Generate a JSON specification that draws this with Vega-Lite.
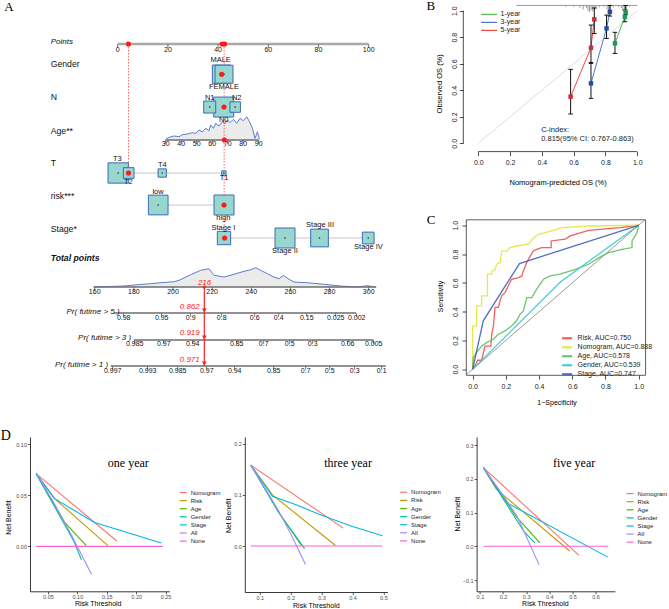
{
"$schema":"https://vega.github.io/schema/vega-lite/v6.json",
"padding":0,
"background":"white",
"config":{
 "font":"Liberation Sans",
 "view":{"stroke":null},
 "axis":{"grid":false,"labelFont":"Liberation Sans","titleFont":"Liberation Sans","titleFontWeight":"normal","domainColor":"#000","tickColor":"#000","labelColor":"#000","titleColor":"#000","minExtent":0},
 "legend":{"labelFont":"Liberation Sans","padding":0}
},
"datasets":{
 "ageDens":[
  {"pos":19.12,"top":2.932,"base":2.954},{"pos":20.44,"top":2.871,"base":2.954},{"pos":22.43,"top":2.831,"base":2.954},{"pos":24.42,"top":2.852,"base":2.954},{"pos":25.78,"top":2.791,"base":2.954},{"pos":27.77,"top":2.769,"base":2.954},{"pos":29.76,"top":2.729,"base":2.954},{"pos":31.08,"top":2.748,"base":2.954},{"pos":32.39,"top":2.646,"base":2.954},{"pos":33.75,"top":2.708,"base":2.954},{"pos":35.06,"top":2.594,"base":2.954},{"pos":36.37,"top":2.668,"base":2.954},{"pos":37.05,"top":2.492,"base":2.954},{"pos":38.13,"top":2.594,"base":2.954},{"pos":39.04,"top":2.44,"base":2.954},{"pos":40.36,"top":2.523,"base":2.954},{"pos":41.71,"top":2.391,"base":2.954},{"pos":42.63,"top":2.462,"base":2.954},{"pos":43.71,"top":2.339,"base":2.954},{"pos":44.74,"top":2.422,"base":2.954},{"pos":46.1,"top":2.317,"base":2.954},{"pos":47.41,"top":2.44,"base":2.954},{"pos":48.73,"top":2.286,"base":2.954},{"pos":50.08,"top":2.36,"base":2.954},{"pos":51.39,"top":2.237,"base":2.954},{"pos":52.47,"top":2.391,"base":2.954},{"pos":53.67,"top":2.594,"base":2.954},{"pos":54.7,"top":2.902,"base":2.954},{"pos":55.66,"top":2.699,"base":2.954},{"pos":56.45,"top":2.932,"base":2.954}
 ],
 "totDens":[
  {"pos":-9.56,"top":7.477,"base":7.477},{"pos":2.51,"top":7.446,"base":7.477},{"pos":7.85,"top":7.406,"base":7.477},{"pos":13.15,"top":7.375,"base":7.477},{"pos":15.82,"top":7.354,"base":7.477},{"pos":22.43,"top":7.314,"base":7.477},{"pos":24.42,"top":7.271,"base":7.477},{"pos":29.08,"top":7.099,"base":7.477},{"pos":33.07,"top":6.963,"base":7.477},{"pos":36.37,"top":6.914,"base":7.477},{"pos":38.37,"top":7.117,"base":7.477},{"pos":42.35,"top":7.169,"base":7.477},{"pos":46.33,"top":7.086,"base":7.477},{"pos":50.32,"top":6.994,"base":7.477},{"pos":52.99,"top":6.945,"base":7.477},{"pos":54.98,"top":6.883,"base":7.477},{"pos":56.97,"top":6.963,"base":7.477},{"pos":59.64,"top":7.068,"base":7.477},{"pos":62.27,"top":7.169,"base":7.477},{"pos":64.26,"top":7.222,"base":7.477},{"pos":66.02,"top":7.117,"base":7.477},{"pos":68.25,"top":7.24,"base":7.477},{"pos":70.24,"top":7.323,"base":7.477},{"pos":75.58,"top":7.345,"base":7.477},{"pos":82.19,"top":7.394,"base":7.477},{"pos":88.84,"top":7.446,"base":7.477},{"pos":95.5,"top":7.477,"base":7.477},{"pos":99.48,"top":7.437,"base":7.477},{"pos":102.79,"top":7.477,"base":7.477}
 ],
 "aTicks":[
  {"t":"0","pos":0,"row":0.17,"trow":0.06},{"t":"20","pos":20,"row":0.17,"trow":0.06},{"t":"40","pos":40,"row":0.17,"trow":0.06},{"t":"60","pos":60,"row":0.17,"trow":0.06},{"t":"80","pos":80,"row":0.17,"trow":0.06},{"t":"100","pos":100,"row":0.17,"trow":0.06},
  {"t":"30","pos":19.12,"row":3.086,"trow":3.014},{"t":"40","pos":25.3,"row":3.086,"trow":3.014},{"t":"50","pos":31.47,"row":3.086,"trow":3.014},{"t":"60","pos":37.65,"row":3.086,"trow":3.014},{"t":"70","pos":43.82,"row":3.086,"trow":3.014},{"t":"80","pos":50.0,"row":3.086,"trow":3.014},{"t":"90","pos":56.18,"row":3.086,"trow":3.014},
  {"t":"160","pos":-9.16,"row":7.63,"trow":7.537},{"t":"180","pos":6.43,"row":7.63,"trow":7.537},{"t":"200","pos":22.03,"row":7.63,"trow":7.537},{"t":"220","pos":37.62,"row":7.63,"trow":7.537},{"t":"240","pos":53.22,"row":7.63,"trow":7.537},{"t":"260","pos":68.81,"row":7.63,"trow":7.537},{"t":"280","pos":84.4,"row":7.63,"trow":7.537},{"t":"300","pos":100.0,"row":7.63,"trow":7.537},
  {"t":"0.98","pos":2.39,"row":8.42,"trow":8.337},{"t":"0.95","pos":17.53,"row":8.42,"trow":8.337},{"t":"0.9","pos":29.08,"row":8.42,"trow":8.337},{"t":"0.8","pos":41.43,"row":8.42,"trow":8.337},{"t":"0.6","pos":54.58,"row":8.42,"trow":8.337},{"t":"0.4","pos":64.14,"row":8.42,"trow":8.337},{"t":"0.15","pos":75.3,"row":8.42,"trow":8.337},{"t":"0.025","pos":86.85,"row":8.42,"trow":8.337},{"t":"0.002","pos":95.2,"row":8.42,"trow":8.337},
  {"t":"0.985","pos":6.77,"row":9.24,"trow":9.168},{"t":"0.97","pos":18.33,"row":9.24,"trow":9.168},{"t":"0.94","pos":29.88,"row":9.24,"trow":9.168},{"t":"0.85","pos":47.41,"row":9.24,"trow":9.168},{"t":"0.7","pos":58.17,"row":9.24,"trow":9.168},{"t":"0.5","pos":68.53,"row":9.24,"trow":9.168},{"t":"0.3","pos":77.69,"row":9.24,"trow":9.168},{"t":"0.06","pos":91.63,"row":9.24,"trow":9.168},{"t":"0.005","pos":101.99,"row":9.24,"trow":9.168},
  {"t":"0.997","pos":-1.99,"row":10.05,"trow":9.968},{"t":"0.993","pos":11.95,"row":10.05,"trow":9.968},{"t":"0.985","pos":23.9,"row":10.05,"trow":9.968},{"t":"0.97","pos":35.46,"row":10.05,"trow":9.968},{"t":"0.94","pos":46.61,"row":10.05,"trow":9.968},{"t":"0.85","pos":62.15,"row":10.05,"trow":9.968},{"t":"0.7","pos":74.9,"row":10.05,"trow":9.968},{"t":"0.5","pos":84.46,"row":10.05,"trow":9.968},{"t":"0.3","pos":94.42,"row":10.05,"trow":9.968},{"t":"0.1","pos":105.18,"row":10.05,"trow":9.968}
 ],
 "boxes":[
  {"c":"MALE","pos":41.35,"row":0.929,"n":210,"lpos":41.0,"lrow":0.49},
  {"c":"FEMALE","pos":42.35,"row":0.929,"n":202,"lpos":42.35,"lrow":1.33},
  {"c":"N0","pos":42.23,"row":1.94,"n":250,"lpos":42.23,"lrow":2.33},
  {"c":"N1","pos":36.65,"row":1.94,"n":90,"lpos":36.65,"lrow":1.646},
  {"c":"N2","pos":46.8,"row":1.94,"n":69,"lpos":47.4,"lrow":1.646},
  {"c":"T3","pos":0.2,"row":3.969,"n":258,"lpos":-0.12,"lrow":3.55},
  {"c":"T2","pos":4.38,"row":3.969,"n":71,"lpos":4.26,"lrow":4.24},
  {"c":"T4","pos":17.73,"row":3.969,"n":43,"lpos":17.8,"lrow":3.72},
  {"c":"T1","pos":42.3,"row":3.969,"n":12,"lpos":42.35,"lrow":4.11},
  {"c":"low","pos":16.14,"row":4.954,"n":242,"lpos":16.06,"lrow":4.56},
  {"c":"high","pos":42.35,"row":4.954,"n":250,"lpos":42.1,"lrow":5.36},
  {"c":"Stage I","pos":42.35,"row":5.969,"n":111,"lpos":42.1,"lrow":5.65},
  {"c":"Stage II","pos":66.65,"row":5.969,"n":250,"lpos":66.65,"lrow":6.37},
  {"c":"Stage III","pos":80.4,"row":5.969,"n":196,"lpos":80.6,"lrow":5.57},
  {"c":"Stage IV","pos":99.8,"row":5.969,"n":86,"lpos":99.9,"lrow":6.255}
 ],
 "cal":[
  {"year":"1-year","x":0.86,"y":0.754},{"year":"1-year","x":0.922,"y":0.955},{"year":"1-year","x":0.927,"y":0.992},
  {"year":"3-year","x":0.709,"y":0.452},{"year":"3-year","x":0.807,"y":0.867},{"year":"3-year","x":0.828,"y":0.992},
  {"year":"5-year","x":0.581,"y":0.352},{"year":"5-year","x":0.709,"y":0.721},{"year":"5-year","x":0.73,"y":0.935}
 ],
 "calErr":[
  {"x":0.86,"y":0.678,"y2":0.837},{"x":0.922,"y":0.917,"y2":1.005},{"x":0.927,"y":0.97,"y2":1.04},
  {"x":0.709,"y":0.339,"y2":0.61},{"x":0.807,"y":0.791,"y2":0.967},{"x":0.828,"y":0.96,"y2":1.04},
  {"x":0.581,"y":0.221,"y2":0.558},{"x":0.709,"y":0.603,"y2":0.892},{"x":0.73,"y":0.829,"y2":1.02}
 ],
 "calCaps":[
  {"x":0.86,"y":0.678},{"x":0.86,"y":0.837},{"x":0.922,"y":0.917},{"x":0.922,"y":1.005},{"x":0.927,"y":0.97},{"x":0.927,"y":1.04},
  {"x":0.709,"y":0.339},{"x":0.709,"y":0.61},{"x":0.807,"y":0.791},{"x":0.807,"y":0.967},{"x":0.828,"y":0.96},{"x":0.828,"y":1.04},
  {"x":0.581,"y":0.221},{"x":0.581,"y":0.558},{"x":0.709,"y":0.603},{"x":0.709,"y":0.892},{"x":0.73,"y":0.829},{"x":0.73,"y":1.02}
 ],
 "roc":[
  {"m":"Risk, AUC=0.750","x":0,"y":0},{"m":"Risk, AUC=0.750","x":0.014,"y":0.023},{"m":"Risk, AUC=0.750","x":0.03,"y":0.0625},{"m":"Risk, AUC=0.750","x":0.054,"y":0.0625},{"m":"Risk, AUC=0.750","x":0.06,"y":0.09},{"m":"Risk, AUC=0.750","x":0.074,"y":0.16},{"m":"Risk, AUC=0.750","x":0.11,"y":0.16},{"m":"Risk, AUC=0.750","x":0.115,"y":0.243},{"m":"Risk, AUC=0.750","x":0.125,"y":0.3},{"m":"Risk, AUC=0.750","x":0.135,"y":0.43},{"m":"Risk, AUC=0.750","x":0.155,"y":0.43},{"m":"Risk, AUC=0.750","x":0.165,"y":0.475},{"m":"Risk, AUC=0.750","x":0.175,"y":0.51},{"m":"Risk, AUC=0.750","x":0.195,"y":0.532},{"m":"Risk, AUC=0.750","x":0.215,"y":0.58},{"m":"Risk, AUC=0.750","x":0.235,"y":0.625},{"m":"Risk, AUC=0.750","x":0.276,"y":0.637},{"m":"Risk, AUC=0.750","x":0.296,"y":0.648},{"m":"Risk, AUC=0.750","x":0.306,"y":0.683},{"m":"Risk, AUC=0.750","x":0.326,"y":0.741},{"m":"Risk, AUC=0.750","x":0.336,"y":0.764},{"m":"Risk, AUC=0.750","x":0.366,"y":0.822},{"m":"Risk, AUC=0.750","x":0.386,"y":0.833},{"m":"Risk, AUC=0.750","x":0.416,"y":0.845},{"m":"Risk, AUC=0.750","x":0.473,"y":0.845},{"m":"Risk, AUC=0.750","x":0.473,"y":0.891},{"m":"Risk, AUC=0.750","x":0.557,"y":0.903},{"m":"Risk, AUC=0.750","x":0.588,"y":0.926},{"m":"Risk, AUC=0.750","x":0.618,"y":0.937},{"m":"Risk, AUC=0.750","x":0.698,"y":0.965},{"m":"Risk, AUC=0.750","x":0.889,"y":0.984},{"m":"Risk, AUC=0.750","x":1,"y":1},
  {"m":"Nomogram, AUC=0.888","x":0,"y":0},{"m":"Nomogram, AUC=0.888","x":0,"y":0.3},{"m":"Nomogram, AUC=0.888","x":0.024,"y":0.3},{"m":"Nomogram, AUC=0.888","x":0.024,"y":0.44},{"m":"Nomogram, AUC=0.888","x":0.054,"y":0.44},{"m":"Nomogram, AUC=0.888","x":0.054,"y":0.51},{"m":"Nomogram, AUC=0.888","x":0.089,"y":0.51},{"m":"Nomogram, AUC=0.888","x":0.089,"y":0.66},{"m":"Nomogram, AUC=0.888","x":0.115,"y":0.66},{"m":"Nomogram, AUC=0.888","x":0.115,"y":0.68},{"m":"Nomogram, AUC=0.888","x":0.135,"y":0.69},{"m":"Nomogram, AUC=0.888","x":0.145,"y":0.73},{"m":"Nomogram, AUC=0.888","x":0.165,"y":0.74},{"m":"Nomogram, AUC=0.888","x":0.175,"y":0.82},{"m":"Nomogram, AUC=0.888","x":0.205,"y":0.82},{"m":"Nomogram, AUC=0.888","x":0.225,"y":0.845},{"m":"Nomogram, AUC=0.888","x":0.266,"y":0.856},{"m":"Nomogram, AUC=0.888","x":0.336,"y":0.868},{"m":"Nomogram, AUC=0.888","x":0.366,"y":0.91},{"m":"Nomogram, AUC=0.888","x":0.396,"y":0.937},{"m":"Nomogram, AUC=0.888","x":0.437,"y":0.949},{"m":"Nomogram, AUC=0.888","x":0.487,"y":0.965},{"m":"Nomogram, AUC=0.888","x":0.537,"y":0.984},{"m":"Nomogram, AUC=0.888","x":0.698,"y":0.995},{"m":"Nomogram, AUC=0.888","x":1,"y":1},
  {"m":"Age, AUC=0.578","x":0,"y":0},{"m":"Age, AUC=0.578","x":0.004,"y":0.081},{"m":"Age, AUC=0.578","x":0.024,"y":0.116},{"m":"Age, AUC=0.578","x":0.054,"y":0.162},{"m":"Age, AUC=0.578","x":0.085,"y":0.185},{"m":"Age, AUC=0.578","x":0.125,"y":0.208},{"m":"Age, AUC=0.578","x":0.155,"y":0.243},{"m":"Age, AUC=0.578","x":0.195,"y":0.266},{"m":"Age, AUC=0.578","x":0.235,"y":0.3},{"m":"Age, AUC=0.578","x":0.266,"y":0.34},{"m":"Age, AUC=0.578","x":0.286,"y":0.382},{"m":"Age, AUC=0.578","x":0.306,"y":0.405},{"m":"Age, AUC=0.578","x":0.326,"y":0.498},{"m":"Age, AUC=0.578","x":0.356,"y":0.498},{"m":"Age, AUC=0.578","x":0.386,"y":0.556},{"m":"Age, AUC=0.578","x":0.427,"y":0.625},{"m":"Age, AUC=0.578","x":0.467,"y":0.648},{"m":"Age, AUC=0.578","x":0.527,"y":0.66},{"m":"Age, AUC=0.578","x":0.618,"y":0.694},{"m":"Age, AUC=0.578","x":0.698,"y":0.729},{"m":"Age, AUC=0.578","x":0.779,"y":0.787},{"m":"Age, AUC=0.578","x":0.819,"y":0.81},{"m":"Age, AUC=0.578","x":0.899,"y":0.833},{"m":"Age, AUC=0.578","x":0.96,"y":0.845},{"m":"Age, AUC=0.578","x":0.96,"y":0.891},{"m":"Age, AUC=0.578","x":0.99,"y":0.95},{"m":"Age, AUC=0.578","x":1,"y":1},
  {"m":"Gender, AUC=0.539","x":0,"y":0},{"m":"Gender, AUC=0.539","x":0.53,"y":0.608},{"m":"Gender, AUC=0.539","x":1,"y":1},
  {"m":"Stage, AUC=0.747","x":0,"y":0},{"m":"Stage, AUC=0.747","x":0.064,"y":0.336},{"m":"Stage, AUC=0.747","x":0.282,"y":0.734},{"m":"Stage, AUC=0.747","x":1,"y":1}
 ],
 "d1":[
  {"m":"Nomogram","x":0.03,"y":0.0713},{"m":"Nomogram","x":0.167,"y":0.0052},
  {"m":"Risk","x":0.03,"y":0.0713},{"m":"Risk","x":0.0613,"y":0.0468},{"m":"Risk","x":0.152,"y":0.0007},
  {"m":"Age","x":0.03,"y":0.0713},{"m":"Age","x":0.0782,"y":0.0238},{"m":"Age","x":0.1151,"y":0.0007},
  {"m":"Gender","x":0.03,"y":0.0713},{"m":"Gender","x":0.095,"y":0.004},{"m":"Gender","x":0.107,"y":-0.0131},
  {"m":"Stage","x":0.03,"y":0.0713},{"m":"Stage","x":0.0613,"y":0.0468},{"m":"Stage","x":0.1293,"y":0.0233},{"m":"Stage","x":0.2429,"y":0.0032},
  {"m":"All","x":0.03,"y":0.0722},{"m":"All","x":0.06,"y":0.0426},{"m":"All","x":0.09,"y":0.011},{"m":"All","x":0.124,"y":-0.0275},
  {"m":"None","x":0.03,"y":0},{"m":"None","x":0.245,"y":0}
 ],
 "d2":[
  {"m":"Nomogram","x":0.071,"y":0.158},{"m":"Nomogram","x":0.37,"y":0.035},
  {"m":"Risk","x":0.071,"y":0.158},{"m":"Risk","x":0.141,"y":0.1},{"m":"Risk","x":0.345,"y":0.001},
  {"m":"Age","x":0.071,"y":0.158},{"m":"Age","x":0.16,"y":0.067},{"m":"Age","x":0.235,"y":0.001},
  {"m":"Gender","x":0.071,"y":0.158},{"m":"Gender","x":0.165,"y":0.062},{"m":"Gender","x":0.245,"y":-0.005},
  {"m":"Stage","x":0.071,"y":0.158},{"m":"Stage","x":0.141,"y":0.097},{"m":"Stage","x":0.22,"y":0.08},{"m":"Stage","x":0.3,"y":0.06},{"m":"Stage","x":0.4,"y":0.038},{"m":"Stage","x":0.497,"y":0.02},
  {"m":"All","x":0.071,"y":0.158},{"m":"All","x":0.16,"y":0.07},{"m":"All","x":0.2,"y":0.024},{"m":"All","x":0.248,"y":-0.036},
  {"m":"None","x":0.071,"y":0},{"m":"None","x":0.497,"y":0}
 ],
 "d3":[
  {"m":"Nomogram","x":0.115,"y":0.233},{"m":"Nomogram","x":0.528,"y":-0.027},
  {"m":"Risk","x":0.115,"y":0.233},{"m":"Risk","x":0.17,"y":0.17},{"m":"Risk","x":0.488,"y":-0.014},
  {"m":"Age","x":0.115,"y":0.233},{"m":"Age","x":0.258,"y":0.087},{"m":"Age","x":0.359,"y":0.01},
  {"m":"Gender","x":0.115,"y":0.233},{"m":"Gender","x":0.29,"y":0.044},{"m":"Gender","x":0.337,"y":0.01},
  {"m":"Stage","x":0.115,"y":0.233},{"m":"Stage","x":0.222,"y":0.127},{"m":"Stage","x":0.653,"y":-0.032},
  {"m":"All","x":0.115,"y":0.233},{"m":"All","x":0.2,"y":0.151},{"m":"All","x":0.26,"y":0.09},{"m":"All","x":0.3,"y":0.03},{"m":"All","x":0.356,"y":-0.055},
  {"m":"None","x":0.115,"y":0},{"m":"None","x":0.655,"y":0}
 ]
},
"spacing":23,
"resolve":{"scale":{"color":"independent","fill":"independent","size":"independent"},"legend":{"color":"independent","fill":"independent","size":"independent"}},
"vconcat":[
 {"spacing":35,
  "resolve":{"scale":{"color":"independent","fill":"independent","size":"independent"},"legend":{"color":"independent","fill":"independent","size":"independent"}},
  "hconcat":[
  {"width":360.7,"height":390,
   "encoding":{"x":{"field":"pos","type":"quantitative","scale":{"domain":[-34.94,108.76],"nice":false,"zero":false},"axis":null}},
   "layer":[
    {"data":{"name":"ageDens"},"mark":{"type":"area","color":"#ebebeb"},"encoding":{"y":{"field":"top","type":"quantitative","scale":{"domain":[-1.354,10.646],"reverse":true,"nice":false,"zero":false},"axis":null},"y2":{"field":"base"}}},
    {"data":{"name":"ageDens"},"mark":{"type":"line","color":"#4a6fc4","strokeWidth":0.9},"encoding":{"y":{"field":"top","type":"quantitative","scale":{"domain":[-1.354,10.646],"reverse":true,"nice":false,"zero":false},"axis":null}}},
    {"data":{"name":"totDens"},"mark":{"type":"area","color":"#ebebeb"},"encoding":{"y":{"field":"top","type":"quantitative","scale":{"domain":[-1.354,10.646],"reverse":true,"nice":false,"zero":false},"axis":null},"y2":{"field":"base"}}},
    {"data":{"name":"totDens"},"mark":{"type":"line","color":"#4a6fc4","strokeWidth":0.9},"encoding":{"y":{"field":"top","type":"quantitative","scale":{"domain":[-1.354,10.646],"reverse":true,"nice":false,"zero":false},"axis":null}}},
    {"data":{"values":[{"pos":0.2,"pos2":42.3,"row":3.969},{"pos":16.14,"pos2":42.35,"row":4.954},{"pos":42.35,"pos2":99.8,"row":5.969}]},"mark":{"type":"rule","color":"#c8c8c8","strokeWidth":1},"encoding":{"x2":{"field":"pos2"},"y":{"field":"row","type":"quantitative","scale":{"domain":[-1.354,10.646],"reverse":true,"nice":false,"zero":false},"axis":null}}},
    {"data":{"values":[{"pos":19.12,"pos2":56.18,"row":2.954},{"pos":-9.5,"pos2":103,"row":7.477},{"pos":-1.47,"pos2":94.96,"row":8.277},{"pos":6.5,"pos2":101.9,"row":9.108},{"pos":-2.79,"pos2":106.8,"row":9.908}]},"mark":{"type":"rule","color":"#6e6e6e","strokeWidth":1.6},"encoding":{"x2":{"field":"pos2"},"y":{"field":"row","type":"quantitative","scale":{"domain":[-1.354,10.646],"reverse":true,"nice":false,"zero":false},"axis":null}}},
    {"data":{"values":[{"pos":0,"pos2":100,"row":0}]},"mark":{"type":"rule","color":"#a8a8a8","strokeWidth":2.6},"encoding":{"x2":{"field":"pos2"},"y":{"field":"row","type":"quantitative","scale":{"domain":[-1.354,10.646],"reverse":true,"nice":false,"zero":false},"axis":null}}},
    {"data":{"name":"aTicks"},"mark":{"type":"tick","orient":"vertical","size":3.5,"thickness":0.8,"color":"#555","opacity":1},"encoding":{"y":{"field":"trow","type":"quantitative","scale":{"domain":[-1.354,10.646],"reverse":true,"nice":false,"zero":false},"axis":null}}},
    {"data":{"name":"aTicks"},"mark":{"type":"text","fontSize":7,"color":"#111"},"encoding":{"y":{"field":"row","type":"quantitative","scale":{"domain":[-1.354,10.646],"reverse":true,"nice":false,"zero":false},"axis":null},"text":{"field":"t"}}},
    {"data":{"values":[{"pos":4.3,"row":0,"row2":3.969},{"pos":42.4,"row":0,"row2":5.969}]},"mark":{"type":"rule","color":"#ff4040","strokeWidth":0.8,"strokeDash":[1.5,1.5]},"encoding":{"y":{"field":"row","type":"quantitative","scale":{"domain":[-1.354,10.646],"reverse":true,"nice":false,"zero":false},"axis":null},"y2":{"field":"row2"}}},
    {"data":{"name":"boxes"},"mark":{"type":"square","fill":"#98d6d0","stroke":"#3f6ab5","strokeWidth":1,"opacity":1,"filled":true},"encoding":{"y":{"field":"row","type":"quantitative","scale":{"domain":[-1.354,10.646],"reverse":true,"nice":false,"zero":false},"axis":null},"size":{"field":"n","type":"quantitative","scale":{"domain":[0,250],"range":[0,400]},"legend":null}}},
    {"data":{"name":"boxes"},"mark":{"type":"circle","color":"#222","size":2.5,"opacity":1},"encoding":{"y":{"field":"row","type":"quantitative","scale":{"domain":[-1.354,10.646],"reverse":true,"nice":false,"zero":false},"axis":null}}},
    {"data":{"name":"boxes"},"mark":{"type":"text","fontSize":7.5,"color":"#111"},"encoding":{"x":{"field":"lpos","type":"quantitative","scale":{"domain":[-34.94,108.76],"nice":false,"zero":false},"axis":null},"y":{"field":"lrow","type":"quantitative","scale":{"domain":[-1.354,10.646],"reverse":true,"nice":false,"zero":false},"axis":null},"text":{"field":"c"}}},
    {"data":{"values":[{"pos":34.5,"row":7.477,"row2":9.908}]},"mark":{"type":"rule","color":"#ff2020","strokeWidth":1.2},"encoding":{"y":{"field":"row","type":"quantitative","scale":{"domain":[-1.354,10.646],"reverse":true,"nice":false,"zero":false},"axis":null},"y2":{"field":"row2"}}},
    {"data":{"values":[{"pos":34.5,"row":8.2},{"pos":34.5,"row":9.03},{"pos":34.5,"row":9.83}]},"mark":{"type":"point","shape":"triangle-down","filled":true,"color":"#ff2020","size":22,"opacity":1},"encoding":{"y":{"field":"row","type":"quantitative","scale":{"domain":[-1.354,10.646],"reverse":true,"nice":false,"zero":false},"axis":null}}},
    {"data":{"values":[{"pos":34.5,"row":7.477}]},"mark":{"type":"circle","color":"#ff1a1a","size":10,"opacity":1},"encoding":{"y":{"field":"row","type":"quantitative","scale":{"domain":[-1.354,10.646],"reverse":true,"nice":false,"zero":false},"axis":null}}},
    {"data":{"values":[{"pos":4.3,"row":0},{"pos":41.6,"row":0},{"pos":42.6,"row":0},{"pos":41.43,"row":0.929},{"pos":42.35,"row":1.94},{"pos":42.5,"row":2.954},{"pos":4.3,"row":3.969},{"pos":42.35,"row":4.954},{"pos":42.6,"row":5.969}]},"mark":{"type":"circle","color":"#ff1a1a","size":26,"opacity":1},"encoding":{"y":{"field":"row","type":"quantitative","scale":{"domain":[-1.354,10.646],"reverse":true,"nice":false,"zero":false},"axis":null}}},
    {"data":{"values":[{"t":"216","pos":34.6,"row":7.344},{"t":"0.862","pos":28.7,"row":8.08},{"t":"0.919","pos":28.7,"row":8.9},{"t":"0.971","pos":28.7,"row":9.72}]},"mark":{"type":"text","fontStyle":"italic","fontSize":8,"color":"#ff2020"},"encoding":{"y":{"field":"row","type":"quantitative","scale":{"domain":[-1.354,10.646],"reverse":true,"nice":false,"zero":false},"axis":null},"text":{"field":"t"}}},
    {"data":{"values":[{"t":"Gender","pos":-26.7,"row":0.625},{"t":"N","pos":-26.7,"row":1.64},{"t":"Age**","pos":-26.7,"row":2.667},{"t":"T","pos":-26.7,"row":3.671},{"t":"risk***","pos":-26.7,"row":4.677},{"t":"Stage*","pos":-26.7,"row":5.692}]},"mark":{"type":"text","fontSize":8.7,"align":"left","color":"#111"},"encoding":{"y":{"field":"row","type":"quantitative","scale":{"domain":[-1.354,10.646],"reverse":true,"nice":false,"zero":false},"axis":null},"text":{"field":"t"}}},
    {"data":{"values":[{"t":"Points","pos":-26.7,"row":-0.07}]},"mark":{"type":"text","fontSize":8,"fontStyle":"italic","align":"left","color":"#111"},"encoding":{"y":{"field":"row","type":"quantitative","scale":{"domain":[-1.354,10.646],"reverse":true,"nice":false,"zero":false},"axis":null},"text":{"field":"t"}}},
    {"data":{"values":[{"t":"Total points","pos":-26.7,"row":6.594}]},"mark":{"type":"text","fontSize":8.7,"fontStyle":"italic","fontWeight":"bold","align":"left","color":"#111"},"encoding":{"y":{"field":"row","type":"quantitative","scale":{"domain":[-1.354,10.646],"reverse":true,"nice":false,"zero":false},"axis":null},"text":{"field":"t"}}},
    {"data":{"values":[{"t":"Pr( futime > 5 )","pos":-20.4,"row":8.25},{"t":"Pr( futime > 3 )","pos":-15.8,"row":9.06},{"t":"Pr( futime > 1 )","pos":-25.0,"row":9.88}]},"mark":{"type":"text","fontSize":8,"fontStyle":"italic","align":"left","color":"#111"},"encoding":{"y":{"field":"row","type":"quantitative","scale":{"domain":[-1.354,10.646],"reverse":true,"nice":false,"zero":false},"axis":null},"text":{"field":"t"}}},
    {"data":{"values":[{"t":"A","pos":-43.3,"row":-1.13}]},"mark":{"type":"text","font":"Liberation Serif","fontSize":13,"color":"#000"},"encoding":{"y":{"field":"row","type":"quantitative","scale":{"domain":[-1.354,10.646],"reverse":true,"nice":false,"zero":false},"axis":null},"text":{"field":"t"}}}
   ]
  },
  {"spacing":27.5,
   "resolve":{"scale":{"color":"independent","fill":"independent"},"legend":{"color":"independent","fill":"independent"}},
   "vconcat":[
   {"width":177.6,"height":148.6,
    "encoding":{
     "x":{"field":"x","type":"quantitative","scale":{"domain":[-0.077,1.04],"nice":false,"zero":false},"axis":{"values":[0,0.2,0.4,0.6,0.8,1],"format":".1f","title":"Nomogram-predicted OS (%)","titleFontSize":7.5,"titleX":91.6,"titleY":30.4,"titleBaseline":"middle","titleAlign":"center","labelFontSize":7,"tickSize":4,"labelPadding":3,"offset":3,"domain":false,"tickWidth":0.8,"labelColor":"#222","tickColor":"#222"}},
     "y":{"field":"y","type":"quantitative","scale":{"domain":[-0.04,1.081],"nice":false,"zero":false},"axis":{"values":[0,0.2,0.4,0.6,0.8,1],"format":".1f","title":"Observed OS (%)","titleFontSize":7.5,"titleX":-23.7,"titleY":83.3,"titleBaseline":"middle","titleAlign":"center","labelFontSize":7,"labelAngle":-90,"labelAlign":"center","labelBaseline":"bottom","tickSize":4,"labelPadding":1.5,"offset":2.7,"domain":false,"tickWidth":0.8,"labelColor":"#222","tickColor":"#222"}}
    },
    "layer":[
     {"data":{"values":[{"x":0,"y":0},{"x":1,"y":1}]},"mark":{"type":"line","color":"#d4d4d4","strokeWidth":0.8}},
     {"data":{"values":[{"x":0,"x2":1,"y":-0.0626,"y2":-0.0626},{"x":-0.094,"x2":-0.094,"y":0,"y2":1}]},"mark":{"type":"rule","color":"#222","strokeWidth":0.8},"encoding":{"x2":{"field":"x2"},"y2":{"field":"y2"}}},
     {"data":{"values":[{"x":0.24,"x2":1.0,"y":1.04}]},"mark":{"type":"rule","color":"#9a9a9a","strokeWidth":1},"encoding":{"x2":{"field":"x2"}}},
     {"data":{"values":[{"x":0.55,"y":1.04,"y2":1.03},{"x":0.6,"y":1.04,"y2":1.03},{"x":0.64,"y":1.04,"y2":1.022},{"x":0.66,"y":1.04,"y2":1.01},{"x":0.68,"y":1.04,"y2":1.02},{"x":0.69,"y":1.04,"y2":1.0},{"x":0.7,"y":1.04,"y2":0.99},{"x":0.71,"y":1.04,"y2":1.005},{"x":0.72,"y":1.04,"y2":0.995},{"x":0.73,"y":1.04,"y2":1.01},{"x":0.74,"y":1.04,"y2":1.015},{"x":0.76,"y":1.04,"y2":1.025},{"x":0.79,"y":1.04,"y2":1.028},{"x":0.81,"y":1.04,"y2":1.01},{"x":0.82,"y":1.04,"y2":1.0},{"x":0.83,"y":1.04,"y2":1.005},{"x":0.85,"y":1.04,"y2":1.025},{"x":0.88,"y":1.04,"y2":1.028},{"x":0.9,"y":1.04,"y2":1.02},{"x":0.91,"y":1.04,"y2":1.005},{"x":0.92,"y":1.04,"y2":1.0},{"x":0.93,"y":1.04,"y2":1.01},{"x":0.95,"y":1.04,"y2":1.03}]},"mark":{"type":"rule","color":"#9a9a9a","strokeWidth":1},"encoding":{"y2":{"field":"y2"}}},
     {"data":{"name":"cal"},"mark":{"type":"line","strokeWidth":1},"encoding":{"color":{"field":"year","type":"nominal","scale":{"domain":["1-year","3-year","5-year"],"range":["#4cbf4c","#4a78c8","#f04848"]},"legend":{"orient":"none","legendX":18.1,"legendY":9.4,"title":null,"labelFontSize":7,"labelColor":"#222","symbolType":"M-2,0H2","symbolSize":64,"symbolStrokeWidth":1.2,"labelOffset":6.5,"rowPadding":0,"padding":0}}}},
     {"data":{"name":"calErr"},"mark":{"type":"rule","color":"#111","strokeWidth":1},"encoding":{"y2":{"field":"y2"}}},
     {"data":{"name":"calCaps"},"mark":{"type":"tick","orient":"horizontal","size":4.5,"thickness":1,"color":"#111","opacity":1}},
     {"data":{"name":"cal"},"mark":{"type":"square","size":20,"opacity":1},"encoding":{"fill":{"field":"year","type":"nominal","scale":{"domain":["1-year","3-year","5-year"],"range":["#1d9a5a","#1f4ea8","#cf2a3f"]},"legend":null}}},
     {"data":{"values":[{"t":"C-index:","x":0.396,"y":0.0985},{"t":"0.815(95% CI: 0.767-0.863)","x":0.396,"y":0.0356}]},"mark":{"type":"text","fontSize":7.5,"align":"left","color":"#222"},"encoding":{"text":{"field":"t"}}},
     {"data":{"values":[{"t":"B","x":-0.325,"y":1.081}]},"mark":{"type":"text","font":"Liberation Serif","fontSize":13,"align":"left","baseline":"top","color":"#000"},"encoding":{"text":{"field":"t"}}}
    ]
   },
   {"width":179.3,"height":155.5,
    "view":{"stroke":"#333","strokeWidth":0.8},
    "encoding":{
     "x":{"field":"x","type":"quantitative","scale":{"domain":[-0.04,1.04],"nice":false,"zero":false},"axis":{"values":[0,0.2,0.4,0.6,0.8,1],"format":".1f","title":"1−Specificity","titleFontSize":7,"titleX":90.6,"titleY":27,"titleBaseline":"middle","titleAlign":"center","labelFontSize":7,"tickSize":4,"labelPadding":3,"domain":false,"tickWidth":0.8,"labelColor":"#222","tickColor":"#222"}},
     "y":{"field":"y","type":"quantitative","scale":{"domain":[-0.04,1.04],"nice":false,"zero":false},"axis":{"values":[0,0.2,0.4,0.6,0.8,1],"format":".1f","title":"Sensitivity","titleFontSize":7,"titleX":-25.4,"titleY":76.5,"titleBaseline":"middle","titleAlign":"center","labelFontSize":7,"labelAngle":-90,"labelAlign":"center","labelBaseline":"bottom","tickSize":4,"labelPadding":3.9,"domain":false,"tickWidth":0.8,"labelColor":"#222","tickColor":"#222"}}
    },
    "layer":[
     {"data":{"values":[{"x":-0.04,"y":-0.04},{"x":1.04,"y":1.04}]},"mark":{"type":"line","color":"#808080","strokeWidth":0.8}},
     {"data":{"name":"roc"},"mark":{"type":"line","strokeWidth":1.3,"opacity":0.9},"encoding":{"order":{"value":null},"color":{"field":"m","type":"nominal","scale":{"domain":["Risk, AUC=0.750","Nomogram, AUC=0.888","Age, AUC=0.578","Gender, AUC=0.539","Stage, AUC=0.747"],"range":["#f04e4e","#e5e53a","#5cc15c","#38c9cf","#3f62b5"]},"legend":{"orient":"none","legendX":96.1,"legendY":115,"title":null,"labelFontSize":7,"labelColor":"#222","symbolType":"M-2.4,0H2.4","symbolSize":25,"symbolStrokeWidth":2.2,"labelOffset":7.5,"clipHeight":7.5,"rowPadding":0,"padding":0}}}},
     {"data":{"values":[{"t":"C","x":-0.277,"y":1.076}]},"mark":{"type":"text","font":"Liberation Serif","fontSize":13,"align":"left","baseline":"top","color":"#000"},"encoding":{"text":{"field":"t"}}}
    ]
   }
  ]}
 ]},
 {"spacing":2.8,
  "resolve":{"scale":{"color":"independent"},"legend":{"color":"independent"}},
  "hconcat":[
   {"width":139.4,"height":154.3,
    "encoding":{
     "x":{"field":"x","type":"quantitative","scale":{"domain":[0.0195,0.2565],"nice":false,"zero":false},"axis":{"values":[0.05,0.1,0.15,0.2,0.25],"format":".2f","title":"Risk Threshold","titleX":67.7,"titleY":12.3,"titleBaseline":"middle","titleAlign":"center","labelFontSize":5.5,"titleFontSize":7,"tickSize":2.5,"labelPadding":1,"labelColor":"#4d4d4d","tickColor":"#333","domainColor":"#222","domainWidth":0.9,"tickWidth":0.8}},
     "y":{"field":"y","type":"quantitative","scale":{"domain":[-0.0441,0.1072],"nice":false,"zero":false},"axis":{"values":[0,0.05,0.1],"format":".2f","title":"Net Benefit","titleX":-21.3,"titleY":80,"titleBaseline":"middle","titleAlign":"center","labelFontSize":5.5,"titleFontSize":7,"tickSize":2.5,"labelPadding":1,"labelColor":"#4d4d4d","tickColor":"#333","domainColor":"#222","domainWidth":0.9,"tickWidth":0.8}}
    },
    "layer":[
     {"data":{"name":"d1"},"mark":{"type":"line","strokeWidth":1.1},"encoding":{
      "color":{"field":"m","type":"nominal","scale":{"domain":["Nomogram","Risk","Age","Gender","Stage","All","None"],"range":["#F8766D","#C49A00","#53B400","#00C094","#00B6EB","#A58AFF","#FB61D7"]},"legend":{"orient":"none","legendX":148.7,"legendY":51,"title":null,"labelFontSize":6,"labelColor":"#222","symbolType":"stroke","symbolSize":49,"symbolStrokeWidth":1.2,"labelOffset":3,"rowPadding":0.1,"padding":0}}}},
     {"data":{"values":[{"t":"one year","x":0.1866,"y":0.0814}]},"mark":{"type":"text","font":"Liberation Serif","fontSize":12,"color":"#000"},"encoding":{"text":{"field":"t"}}},
     {"data":{"values":[{"t":"D","x":-0.0303,"y":0.1148}]},"mark":{"type":"text","font":"Liberation Serif","fontSize":14,"align":"left","baseline":"top","color":"#000"},"encoding":{"text":{"field":"t"}}}
    ]
   },
   {"width":142.6,"height":155,
    "encoding":{
     "x":{"field":"x","type":"quantitative","scale":{"domain":[0.0515,0.513],"nice":false,"zero":false},"axis":{"values":[0.1,0.2,0.3,0.4,0.5],"format":".1f","title":"Risk Threshold","titleX":71,"titleY":13.3,"titleBaseline":"middle","titleAlign":"center","labelFontSize":5.5,"titleFontSize":7,"tickSize":2.5,"labelPadding":1,"labelColor":"#4d4d4d","tickColor":"#333","domainColor":"#222","domainWidth":0.9,"tickWidth":0.8}},
     "y":{"field":"y","type":"quantitative","scale":{"domain":[-0.0898,0.213],"nice":false,"zero":false},"axis":{"values":[0,0.1,0.2],"format":".1f","title":"Net Benefit","titleX":-16.7,"titleY":78.3,"titleBaseline":"middle","titleAlign":"center","labelFontSize":5.5,"titleFontSize":7,"tickSize":2.5,"labelPadding":1,"labelColor":"#4d4d4d","tickColor":"#333","domainColor":"#222","domainWidth":0.9,"tickWidth":0.8}}
    },
    "layer":[
     {"data":{"name":"d2"},"mark":{"type":"line","strokeWidth":1.1},"encoding":{
      "color":{"field":"m","type":"nominal","scale":{"domain":["Nomogram","Risk","Age","Gender","Stage","All","None"],"range":["#F8766D","#C49A00","#53B400","#00C094","#00B6EB","#A58AFF","#FB61D7"]},"legend":{"orient":"none","legendX":146.6,"legendY":43.1,"title":null,"labelFontSize":6,"labelColor":"#222","symbolType":"stroke","symbolSize":49,"symbolStrokeWidth":1.2,"labelOffset":3,"rowPadding":0.1,"padding":7.7}}}},
     {"data":{"values":[{"t":"three year","x":0.3858,"y":0.162}]},"mark":{"type":"text","font":"Liberation Serif","fontSize":12,"color":"#000"},"encoding":{"text":{"field":"t"}}}
    ]
   },
   {"width":138.3,"height":154.3,
    "encoding":{
     "x":{"field":"x","type":"quantitative","scale":{"domain":[0.0857,0.6834],"nice":false,"zero":false},"axis":{"values":[0.1,0.2,0.3,0.4,0.5,0.6],"format":".1f","title":"Risk Threshold","titleX":68.3,"titleY":12.3,"titleBaseline":"middle","titleAlign":"center","labelFontSize":5.5,"titleFontSize":7,"tickSize":2.5,"labelPadding":1,"labelColor":"#4d4d4d","tickColor":"#333","domainColor":"#222","domainWidth":0.9,"tickWidth":0.8}},
     "y":{"field":"y","type":"quantitative","scale":{"domain":[-0.1333,0.3239],"nice":false,"zero":false},"axis":{"values":[-0.1,0,0.1,0.2,0.3],"format":".1f","title":"Net Benefit","titleX":-19.3,"titleY":76.6,"titleBaseline":"middle","titleAlign":"center","labelFontSize":5.5,"titleFontSize":7,"tickSize":2.5,"labelPadding":1,"labelColor":"#4d4d4d","tickColor":"#333","domainColor":"#222","domainWidth":0.9,"tickWidth":0.8}}
    },
    "layer":[
     {"data":{"name":"d3"},"mark":{"type":"line","strokeWidth":1.1},"encoding":{
      "color":{"field":"m","type":"nominal","scale":{"domain":["Nomogram","Risk","Age","Gender","Stage","All","None"],"range":["#F8766D","#C49A00","#53B400","#00C094","#00B6EB","#A58AFF","#FB61D7"]},"legend":{"orient":"none","legendX":149,"legendY":52.1,"title":null,"labelFontSize":6,"labelColor":"#222","symbolType":"stroke","symbolSize":49,"symbolStrokeWidth":1.2,"labelOffset":3,"rowPadding":0.1,"padding":0}}}},
     {"data":{"values":[{"t":"five year","x":0.507,"y":0.247}]},"mark":{"type":"text","font":"Liberation Serif","fontSize":12,"color":"#000"},"encoding":{"text":{"field":"t"}}}
    ]
   }
  ]
 }
]
}
